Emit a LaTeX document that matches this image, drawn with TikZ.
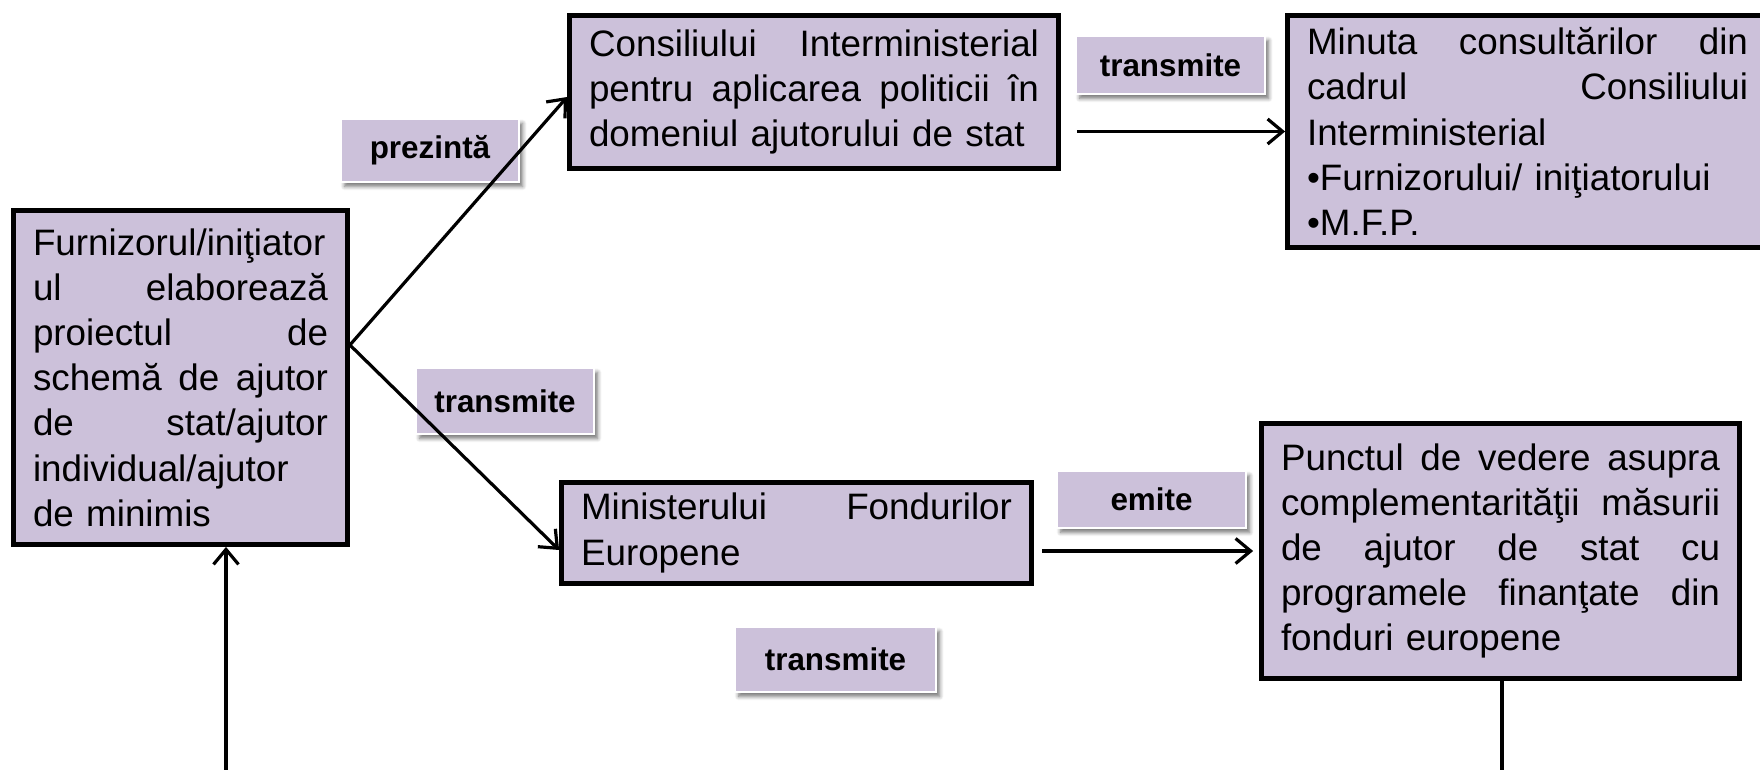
\documentclass[tikz,border=0pt]{standalone}
\usepackage{fontspec}
\setmainfont{Liberation Sans}
\usetikzlibrary{arrows.meta,calc,shadows.blur}
\definecolor{lav}{RGB}{204,193,218}
\begin{document}
\begin{tikzpicture}[x=0.5pt,y=-0.5pt,
  box/.style={draw=black, line width=2.4pt, fill=lav, inner xsep=9.75pt, inner ysep=0pt,
    align=left, font=\fontsize{18.4pt}{22.6pt}\selectfont, anchor=center},
  lbl/.style={draw=white, line width=0.8pt, fill=lav, inner sep=0pt,
    font=\fontsize{15.7pt}{19pt}\selectfont\bfseries,
    blur shadow={shadow xshift=1.8pt, shadow yshift=-2.2pt, shadow blur radius=2pt,
      shadow blur steps=6, shadow opacity=55}},
  conn/.style={line width=1.6pt, -{Straight Barb[length=7.5pt,width=12.5pt]}}
]
\useasboundingbox (0,0) rectangle (1760,770);

% main boxes
\node[box, text width=147.5pt, minimum height=167pt] (A) at (180.5,377.5)
  {Furnizorul/iniţiator\\ ul\hfill elaborează\\ proiectul\hfill de\\ schemă\hfill de\hfill ajutor\\ de\hfill stat/ajutor\\ individual/ajutor\\ de minimis};
\node[box, text width=225pt, minimum height=76.5pt] (B) at (814,92)
  {Consiliului\hfill Interministerial\\ pentru\hfill aplicarea\hfill politicii\hfill în\\ domeniul ajutorului de stat};
\node[box, text width=220.5pt, minimum height=116pt] (C) at (1527.5,131.5)
  {Minuta\hfill consultărilor\hfill din\\ cadrul\hfill Consiliului\\ Interministerial\\ •Furnizorului/ iniţiatorului\\ •M.F.P.};
\node[box, text width=215.5pt, minimum height=50.5pt] (D) at (796.5,533)
  {Ministerului\hfill Fondurilor\\ Europene};
\node[box, text width=219.5pt, minimum height=127.5pt] (E) at (1500.5,551)
  {Punctul\hfill de\hfill vedere\hfill asupra\\ complementarităţii\hfill măsurii\\ de\hfill ajutor\hfill de\hfill stat\hfill cu\\ programele\hfill finanţate\hfill din\\ fonduri europene};

% labels
\node[lbl, minimum width=89pt, minimum height=31.5pt] (L1) at (430,150.5) {prezintă};
\node[lbl, minimum width=94.5pt, minimum height=29pt] (L2) at (1170.5,65) {transmite};
\node[lbl, minimum width=89pt, minimum height=33pt] (L3) at (505,401) {transmite};
\node[lbl, minimum width=94.5pt, minimum height=28.5pt] (L4) at (1151.5,499.5) {emite};
\node[lbl, minimum width=100.5pt, minimum height=32.5pt] (L5) at (835.5,659.5) {transmite};

% connectors
\draw[conn] ([yshift=16.25pt]A.east) -- ([yshift=-2.5pt]B.west);
\draw[conn] ([yshift=16.25pt]A.east) -- ([yshift=-8.5pt]D.west);
\draw[conn] ($(B.east |- C.west)+(16,0)$) -- (C.west);
\draw[conn, shorten >=3pt] ($(D.east |- E.west)+(8.5,0)$) -- (E.west);
\coordinate (bot1) at (226,775);
\coordinate (bot2) at (1502,775);
\draw[conn] (bot1) -- (bot1 |- A.south);
\draw[line width=1.6pt] (E.south -| bot2) -- (bot2);
\end{tikzpicture}
\end{document}
